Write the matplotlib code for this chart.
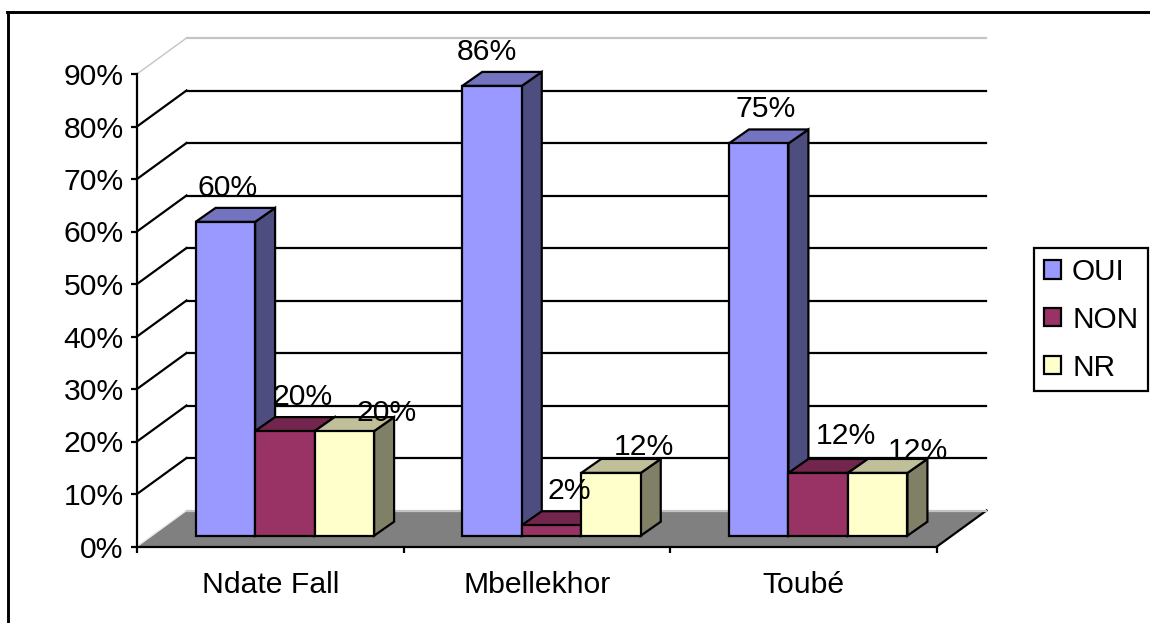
import matplotlib
matplotlib.use("Agg")
import matplotlib.pyplot as plt
from matplotlib.patches import Polygon, Patch
from matplotlib.lines import Line2D
from matplotlib.colors import to_rgb

categories = ["Ndate Fall", "Mbellekhor", "Toubé"]
series_names = ["OUI", "NON", "NR"]
oui = [60, 86, 75]
non = [20, 2, 12]
nr = [20, 12, 12]
series_values = [oui, non, nr]
y_ticks = [0, 10, 20, 30, 40, 50, 60, 70, 80, 90]
colors = ["#9999FF", "#993366", "#FFFFCC"]

W, H = 1150, 623
plt.rcParams["font.family"] = ["Liberation Sans", "DejaVu Sans"]
FS = 21.7
LW = 1.6
fig = plt.figure(figsize=(W / 100, H / 100), dpi=100)
fig.patch.set_facecolor("white")

# Axes covering the front plane of the 3-D box
L, R, B, T = 137, 937, 546.5, 74
ax = fig.add_axes([L / W, 1 - B / H, (R - L) / W, (B - T) / H])
ax.set_xlim(0, 3)
ax.set_ylim(0, 90)
ax.patch.set_visible(False)

# depth expressed in data units
px_x = 3 / (R - L)
px_y = 90 / (B - T)
DX, DY = 49.5 * px_x, 36 * px_y            # whole box depth
BX, BY = 14.5 * px_x, 10.8 * px_y          # bar front inset
SX, SY = 20 * px_x, 14 * px_y              # bar depth
BAR_W = 59.5 * px_x


def poly(pts, fc, ec="black", lw=LW, z=2):
    ax.add_patch(Polygon(pts, closed=True, facecolor=fc, edgecolor=ec,
                         linewidth=lw, zorder=z, clip_on=False,
                         joinstyle="miter"))


def shade(c, f):
    return tuple(v * f for v in to_rgb(c))


# Back wall gridlines and side-wall diagonals
for v in y_ticks:
    edge = v in (0, 90)
    col = "#c4c4c4" if edge else "black"
    ax.plot([DX, 3 + DX], [v + DY, v + DY], color=col, lw=LW, clip_on=False,
            zorder=1.7 if v == 0 else 1)
    if v > 0:
        ax.plot([0, DX], [v, v + DY], color=col, lw=1.0 if edge else LW,
                clip_on=False, zorder=1)

# Floor
poly([(0, 0), (3, 0), (3 + DX, DY), (DX, DY)], "#808080", ec="none", lw=0, z=1.5)
ax.plot([3, 3 + DX], [0, DY], color="black", lw=LW, clip_on=False, zorder=1.6)
ax.plot([0, DX], [0, DY], color="#e8e8e8", lw=1.0, clip_on=False, zorder=1.6)

# Bars
z = 2.0
nudges = {(0, 0): (2, 34), (0, 1): (18, 34), (0, 2): (42, 18),
          (1, 0): (-5, 34), (1, 1): (18, 34), (1, 2): (33, 26),
          (2, 0): (7, 34), (2, 1): (28, 37), (2, 2): (40, 22)}
for c in range(len(categories)):
    for s, name in enumerate(series_names):
        v = series_values[s][c]
        col = colors[s]
        x0 = c + 0.5 - 1.5 * BAR_W + s * BAR_W + BX
        x1 = x0 + BAR_W
        y0 = BY
        y1 = BY + v * (52.3 / 52.5)
        z += 0.01
        poly([(x1, y0), (x1 + SX, y0 + SY), (x1 + SX, y1 + SY), (x1, y1)],
             shade(col, 0.5), z=z)
        poly([(x0, y1), (x1, y1), (x1 + SX, y1 + SY), (x0 + SX, y1 + SY)],
             shade(col, 0.75), z=z)
        poly([(x0, y0), (x1, y0), (x1, y1), (x0, y1)], col, z=z)
        nx, ny = nudges[(c, s)]
        ax.annotate(f"{v}%", xy=((x0 + x1) / 2, y1), xytext=(nx * 0.72, ny * 0.72),
                    textcoords="offset points", ha="center", va="center",
                    fontsize=FS, color="black", zorder=5, annotation_clip=False)

# Axes styling
for side in ("top", "right"):
    ax.spines[side].set_visible(False)
for side in ("left", "bottom"):
    ax.spines[side].set_linewidth(LW)
    ax.spines[side].set_zorder(4)
ax.set_yticks(y_ticks)
ax.set_yticklabels([f"{v}%" for v in y_ticks], fontsize=FS)
ax.set_xticks(range(len(categories) + 1))
ax.set_xticklabels([])
ax.tick_params(axis="both", length=4.5, width=LW, pad=5)
for i, name in enumerate(categories):
    ax.annotate(name, xy=(i + 0.5, 0), xytext=(0, -28), textcoords="offset points",
                ha="center", va="center", fontsize=FS, annotation_clip=False)

# Legend
handles = [Patch(facecolor=c, edgecolor="black", linewidth=LW, label=n)
           for c, n in zip(colors, series_names)]
fig.legend(handles=handles, loc="upper left",
           bbox_to_anchor=(1034 / W, 1 - 248 / H), bbox_transform=fig.transFigure,
           fontsize=21.4, fancybox=False, framealpha=1, edgecolor="black",
           borderpad=0.33, labelspacing=0.67, handlelength=0.58, handleheight=0.58,
           handletextpad=0.37, borderaxespad=0).get_frame().set_linewidth(LW)

# Outer frame: only the top and left edges are in view
fig.add_artist(Line2D([8 / W, 8 / W], [0, 1 - 11.7 / H], color="black", lw=2.1))
fig.add_artist(Line2D([7 / W, 1], [1 - 11.7 / H, 1 - 11.7 / H], color="black", lw=2.1))

fig.savefig("out.png", dpi=100, facecolor="white")
